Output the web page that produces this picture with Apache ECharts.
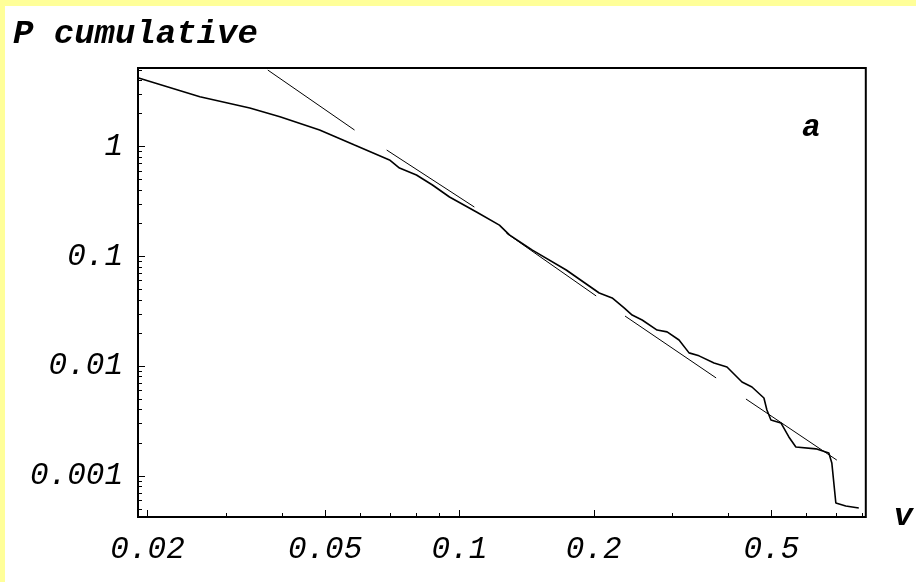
<!DOCTYPE html>
<html>
<head>
<meta charset="utf-8">
<script src="https://cdn.jsdelivr.net/npm/echarts@6/dist/echarts.min.js"></script>
<style>
html,body{margin:0;padding:0;background:#fff;}
#wrap{position:absolute;left:0;top:0;width:916px;height:582px;background:#ffff99;}
#chart{position:absolute;left:5px;top:6px;width:911px;height:576px;background:#fff;}
</style>
</head>
<body>
<div id="wrap"><div id="chart"></div></div>
<script>
const dataX = [0.0191,0.01923,0.0262,0.0339,0.0396,0.0486,0.0582,0.0697,0.0734,0.0801,0.087,0.0950,0.1092,0.1229,0.1294,0.1457,0.1735,0.2057,0.2199,0.2339,0.2438,0.2567,0.2773,0.2920,0.3105,0.3270,0.3443,0.3720,0.3977,0.4297,0.4524,0.4812,0.4887,0.4989,0.5253,0.5473,0.5674,0.6293,0.6726,0.6831,0.6974,0.7340,0.7851];
const dataY = [4.23,4.06,2.86,2.25,1.88,1.42,1.036,0.757,0.639,0.552,0.448,0.348,0.254,0.193,0.157,0.114,0.0752,0.0464,0.0418,0.0339,0.0292,0.0263,0.0213,0.0205,0.0173,0.0132,0.0124,0.01067,0.00981,0.00716,0.00645,0.00512,0.00398,0.00323,0.00303,0.00226,0.00183,0.00176,0.00161,0.00131,0.000565,0.000531,0.000508];
// Power-law fit segments
const fit1X = [0.0372, 0.0582], fit1Y = [5.0, 1.42];
const fit2X = [0.0687, 0.108],  fit2Y = [0.933, 0.282];
const fit3X = [0.1274, 0.2025], fit3Y = [0.163, 0.0436];
const fit4X = [0.235, 0.376],   fit4Y = [0.0286, 0.0078];
const fit5X = [0.4386, 0.701],  fit5Y = [0.00501, 0.00139];
// Ticks
const xMajor = [0.02, 0.05, 0.1, 0.2, 0.5];
const xMinor = [0.03,0.04,0.06,0.07,0.08,0.09,0.3,0.4,0.6,0.7,0.8];
const yMajor = [0.001, 0.01, 0.1, 1];
const yMinor = [0.0005,0.0006,0.0007,0.0008,0.0009,0.002,0.003,0.004,0.005,0.006,0.007,0.008,0.009,0.02,0.03,0.04,0.05,0.06,0.07,0.08,0.09,0.2,0.3,0.4,0.5,0.6,0.7,0.8,0.9,2,3,4,5];
const xMin = 0.01904, xMax = 0.814, yMin = 0.000421, yMax = 5.22;

const zip = (a, b) => a.map((v, i) => [v, b[i]]);
const font = '"Liberation Mono", "DejaVu Sans Mono", monospace';

const chart = echarts.init(document.getElementById('chart'), null, {renderer: 'canvas'});
const lineBase = {type: 'line', showSymbol: false, symbol: 'none', animation: false, silent: true};
chart.setOption({
  backgroundColor: '#fff',
  animation: false,
  title: {
    text: 'P cumulative', left: 3, top: 6,
    textStyle: {fontFamily: font, fontSize: 34, fontStyle: 'italic', fontWeight: 'bold', color: '#000'}
  },
  grid: {left: 133, top: 62, right: 49, bottom: 65, show: true, borderColor: '#000', borderWidth: 2, backgroundColor: 'transparent'},
  xAxis: [{
    type: 'log', logBase: 10, min: xMin, max: xMax,
    axisLine: {show: false}, splitLine: {show: false},
    axisTick: {show: true, inside: true, length: 7, customValues: xMajor, lineStyle: {color: '#000', width: 1}},
    axisLabel: {show: true, customValues: xMajor, margin: 17, formatter: v => String(+v.toPrecision(3)),
      fontFamily: font, fontSize: 31, fontStyle: 'italic', color: '#000'},
    name: 'v', nameLocation: 'end', nameGap: 28,
    nameTextStyle: {fontFamily: font, fontSize: 32, fontStyle: 'italic', fontWeight: 'bold', color: '#000', verticalAlign: 'middle', padding: [6, 0, 0, 0]}
  }, {
    type: 'log', logBase: 10, min: xMin, max: xMax, position: 'bottom',
    axisLine: {show: false}, splitLine: {show: false}, axisLabel: {show: false},
    axisTick: {show: true, inside: true, length: 4, customValues: xMinor, lineStyle: {color: '#000', width: 1}}
  }],
  yAxis: [{
    type: 'log', logBase: 10, min: yMin, max: yMax,
    axisLine: {show: false}, splitLine: {show: false},
    axisTick: {show: true, inside: true, length: 7, customValues: yMajor, lineStyle: {color: '#000', width: 1}},
    axisLabel: {show: true, customValues: yMajor, margin: 15, formatter: v => String(+v.toPrecision(3)),
      fontFamily: font, fontSize: 31, fontStyle: 'italic', color: '#000'}
  }, {
    type: 'log', logBase: 10, min: yMin, max: yMax, position: 'left',
    axisLine: {show: false}, splitLine: {show: false}, axisLabel: {show: false},
    axisTick: {show: true, inside: true, length: 4, customValues: yMinor, lineStyle: {color: '#000', width: 1}}
  }],
  graphic: [{
    type: 'text', left: 797, top: 107,
    style: {text: 'a', font: 'italic bold 31px ' + font, fill: '#000'}
  }],
  series: [
    Object.assign({}, lineBase, {name: 'data', data: zip(dataX, dataY), lineStyle: {color: '#000', width: 1.6}}),
    Object.assign({}, lineBase, {name: 'fit1', data: zip(fit1X, fit1Y), lineStyle: {color: '#000', width: 1}}),
    Object.assign({}, lineBase, {name: 'fit2', data: zip(fit2X, fit2Y), lineStyle: {color: '#000', width: 1}}),
    Object.assign({}, lineBase, {name: 'fit3', data: zip(fit3X, fit3Y), lineStyle: {color: '#000', width: 1}}),
    Object.assign({}, lineBase, {name: 'fit4', data: zip(fit4X, fit4Y), lineStyle: {color: '#000', width: 1}}),
    Object.assign({}, lineBase, {name: 'fit5', data: zip(fit5X, fit5Y), lineStyle: {color: '#000', width: 1}})
  ]
});
</script>
</body>
</html>
